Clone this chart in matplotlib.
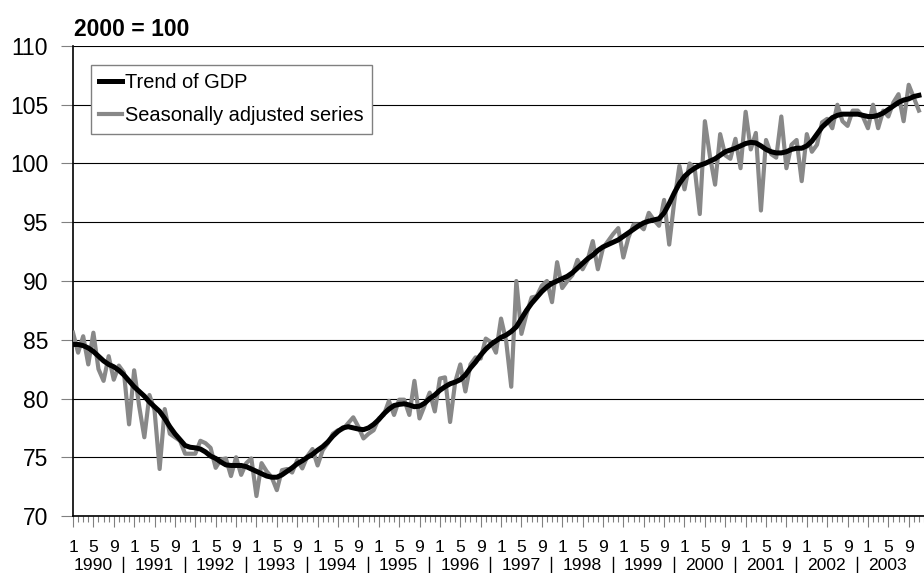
import numpy as np
import matplotlib
matplotlib.use('Agg')
import matplotlib.pyplot as plt

plt.rcParams['font.family'] = ['Liberation Sans', 'DejaVu Sans']

# monthly values, Jan 1990 onwards (2000 = 100)
trend = [84.6, 84.6, 84.5, 84.3, 84.0, 83.6, 83.2, 82.9, 82.7, 82.4, 82.0, 81.5,
         81.0, 80.6, 80.2, 79.7, 79.3, 78.9, 78.3, 77.6, 77.0, 76.5, 76.0, 75.85,
         75.8, 75.7, 75.45, 75.1, 74.9, 74.6, 74.35, 74.3, 74.3, 74.3, 74.2, 74.0,
         73.8, 73.6, 73.4, 73.3, 73.3, 73.5, 73.8, 74.1, 74.45, 74.7, 75.0, 75.25,
         75.6, 75.9, 76.3, 76.8, 77.2, 77.5, 77.6, 77.5, 77.4, 77.35, 77.5, 77.8,
         78.2, 78.7, 79.1, 79.4, 79.5, 79.55, 79.45, 79.3, 79.35, 79.6, 80.0, 80.3,
         80.7, 81.0, 81.25, 81.4, 81.6, 82.0, 82.6, 83.1, 83.7, 84.2, 84.6, 84.9,
         85.2, 85.4, 85.7, 86.1, 86.8, 87.5, 88.1, 88.6, 89.1, 89.5, 89.8, 90.0,
         90.2, 90.4, 90.7, 91.1, 91.5, 91.9, 92.2, 92.6, 92.9, 93.1, 93.3, 93.5,
         93.8, 94.1, 94.4, 94.7, 94.95, 95.1, 95.2, 95.3, 95.8, 96.6, 97.5, 98.3,
         98.9, 99.3, 99.6, 99.85, 100.0, 100.2, 100.4, 100.7, 101.0, 101.15, 101.3, 101.5,
         101.7, 101.8, 101.75, 101.5, 101.2, 101.0, 100.9, 100.9, 101.0, 101.2, 101.3, 101.3,
         101.5, 101.9, 102.5, 103.1, 103.5, 103.9, 104.1, 104.2, 104.2, 104.2, 104.2, 104.1,
         104.0, 104.0, 104.1, 104.3, 104.6, 104.9, 105.2, 105.4, 105.5, 105.7, 105.8]

seas_adj = [85.6, 83.9, 85.3, 82.9, 85.6, 82.5, 81.5, 83.6, 81.6, 82.8, 82.2, 77.8,
            82.4, 79.3, 76.7, 80.3, 79.0, 74.0, 79.1, 77.0, 76.7, 76.4, 75.3, 75.3,
            75.3, 76.4, 76.2, 75.8, 74.1, 74.8, 74.9, 73.4, 75.0, 73.5, 74.5, 74.9,
            71.7, 74.5, 73.8, 73.3, 72.2, 73.9, 74.0, 73.7, 74.75, 74.05, 75.1, 75.7,
            74.3, 75.6, 76.2, 77.0, 77.3, 77.4, 77.9, 78.4, 77.6, 76.6, 77.0, 77.3,
            78.3, 78.6, 79.8, 78.6, 79.9, 79.9, 78.6, 81.5, 78.3, 79.4, 80.5, 78.9,
            81.7, 81.8, 78.0, 81.4, 82.9, 80.6, 82.9, 83.5, 83.4, 85.1, 84.8, 83.9,
            86.8, 84.9, 81.0, 90.0, 85.5, 87.2, 88.6, 88.7, 89.6, 90.0, 88.2, 91.6,
            89.4, 90.0, 90.5, 91.8, 91.0, 91.8, 93.4, 91.0, 92.8, 93.4, 94.0, 94.5,
            92.0, 93.7, 94.8, 94.8, 94.4, 95.8, 95.2, 94.7, 96.9, 93.1, 96.8, 99.8,
            97.8, 100.0, 99.6, 95.7, 103.6, 100.6, 98.2, 102.5, 100.7, 100.4, 102.1, 99.6,
            104.4, 101.2, 102.6, 96.0, 102.0, 100.8, 100.5, 104.0, 99.6, 101.6, 102.0, 98.5,
            102.5, 101.0, 101.6, 103.5, 103.8, 103.0, 105.0, 103.6, 103.2, 104.5, 104.5, 104.0,
            103.0, 105.0, 103.0, 104.5, 104.0, 105.2, 105.9, 103.6, 106.7, 105.6, 104.5]

years = ['1990', '1991', '1992', '1993', '1994', '1995', '1996',
         '1997', '1998', '1999', '2000', '2001', '2002', '2003']
month_labels = ['1', '5', '9']

fig = plt.figure(figsize=(9.24, 5.73), dpi=100)
ax = fig.add_axes([73 / 924, 57 / 573, 851 / 924, 470 / 573])

x = np.arange(len(trend))
xs = np.arange(len(seas_adj))

ax.plot(xs, seas_adj, color='#888888', lw=3.0, label='Seasonally adjusted series', zorder=3)
ax.plot(x, trend, color='black', lw=3.6, label='Trend of GDP', zorder=4)

ax.set_xlim(0, 851 / 5.14)
ax.set_ylim(70, 110)

# y axis
ax.set_yticks(np.arange(70, 111, 5))
ax.yaxis.grid(True, color='black', lw=0.8)
ax.set_axisbelow(True)
ax.tick_params(axis='y', length=9, width=0.8, color='#808080', pad=9, labelsize=16.5)

# x axis: month ticks, labels at 1, 5, 9
major = [12 * k + m for k in range(len(years)) for m in (0, 4, 8)]
ax.set_xticks(major)
ax.set_xticklabels(month_labels * len(years))
ax.set_xticks(np.arange(0, 12 * len(years)), minor=True)
ax.tick_params(axis='x', which='major', length=8, width=0.8, color='#808080', pad=9, labelsize=12.6)
ax.tick_params(axis='x', which='minor', length=4.5, width=0.8, color='#808080')

for s in ['top', 'right']:
    ax.spines[s].set_visible(False)
ax.spines['left'].set_linewidth(1.2)
ax.spines['bottom'].set_linewidth(1.2)

# year labels and separators under the month labels
trans = ax.get_xaxis_transform()
for k, yr in enumerate(years):
    ax.text(12 * k + 3.9, (516 - 565) / 470, yr, transform=trans, ha='center', va='center',
            fontsize=12.6, clip_on=False)
    if k > 0:
        ax.plot([12 * k - 2.1, 12 * k - 2.1], [(516 - 557) / 470, (516 - 573) / 470],
                transform=trans, color='black', lw=1, clip_on=False)

fig.text(74 / 924, 1 - 36 / 573, '2000 = 100', fontsize=16.5, fontweight='bold', va='baseline')

handles, labels = ax.get_legend_handles_labels()
leg = ax.legend(handles[::-1], labels[::-1], loc='upper left', bbox_to_anchor=(91 / 924, 1 - 65 / 573),
                bbox_transform=fig.transFigure, borderaxespad=0, fontsize=14.4, fancybox=False,
                frameon=True, edgecolor='#808080', handlelength=1.15, handletextpad=0.15,
                borderpad=0.42, labelspacing=0.7)
leg.get_frame().set_linewidth(1)
leg.get_frame().set_alpha(1)

fig.savefig('out.png', dpi=100)
